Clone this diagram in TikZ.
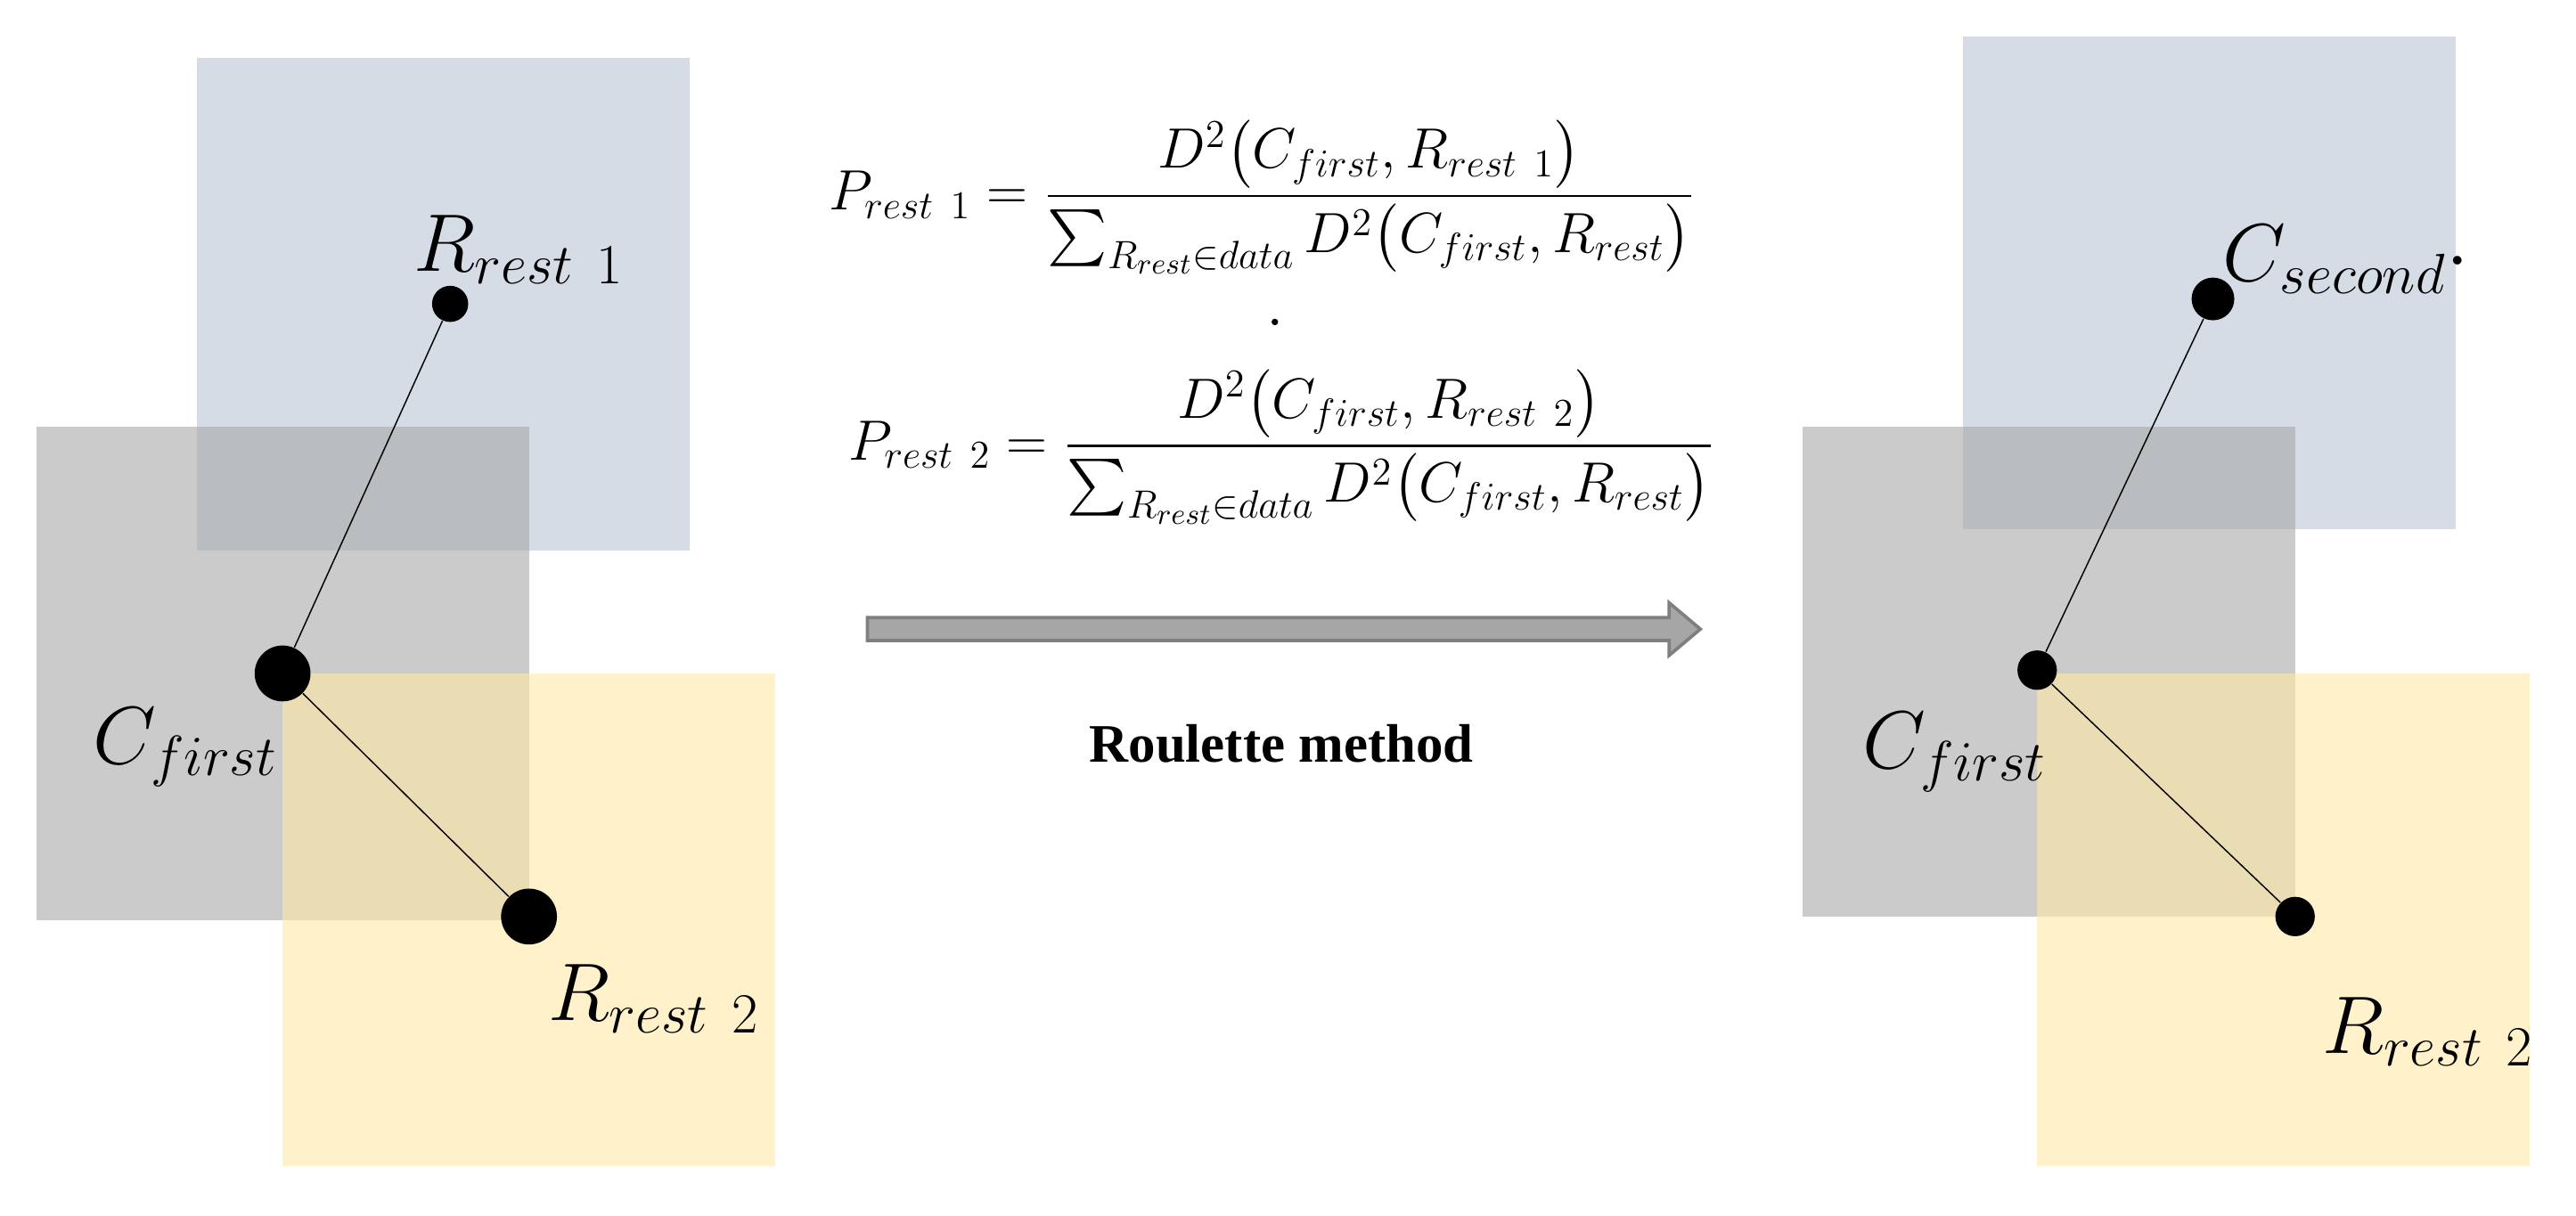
\documentclass[tikz,border=0pt]{standalone}
\usepackage{fontspec}
\usepackage{amsmath}
\newfontfamily\tnr{Liberation Serif}
\definecolor{sqblue}{HTML}{B9C5D5}
\definecolor{sqgray}{HTML}{A8A8A8}
\definecolor{sqyellow}{HTML}{FFE9A6}
\definecolor{arrfill}{HTML}{A6A6A6}
\definecolor{arrline}{HTML}{7F7F7F}
\begin{document}
\begin{tikzpicture}[x=0.5pt,y=-0.5pt,
  sq/.style={opacity=0.6},
  dot/.style={circle,fill=black,inner sep=0pt},
  lbl/.style={font=\fontsize{24}{28}\selectfont},
  frm/.style={font=\fontsize{17.5}{21}\selectfont,inner sep=0pt}]
\useasboundingbox (0,0) rectangle (1568,740);
% left panel
\fill[sqblue,sq] (120,35) rectangle (420,335);
\fill[sqgray,sq] (22,260) rectangle (322,560);
\fill[sqyellow,sq] (172,410) rectangle (472,710);
\node[dot,minimum size=11pt] (r1) at (274,185) {};
\node[dot,minimum size=17pt] (cf) at (172,410) {};
\node[dot,minimum size=17pt] (r2) at (322,558) {};
\draw (r1) -- (cf) -- (r2);
\node[lbl] (lr1) at (316,152) {$R_{rest\ 1}$};
\node[lbl] (lcf) at (113,455) {$C_{first}$};
\node[lbl] (lr2) at (398,608) {$R_{rest\ 2}$};
% formulas
\node[frm] (f1) at (768,120) {$P_{rest\ 1}=\dfrac{D^2\big(C_{first},R_{rest\ 1}\big)}{\sum_{R_{rest}\in data}D^2\big(C_{first},R_{rest}\big)}$};
\node[dot,minimum size=2pt] (pd) at (776,196) {};
\node[frm] (f2) at (780,272) {$P_{rest\ 2}=\dfrac{D^2\big(C_{first},R_{rest\ 2}\big)}{\sum_{R_{rest}\in data}D^2\big(C_{first},R_{rest}\big)}$};
\draw[arrline,line width=1pt,fill=arrfill] (528,376) -- (1016,376) -- (1016,367) -- (1035,383) -- (1016,399) -- (1016,390) -- (528,390) -- cycle;
\node[font=\tnr\bfseries\fontsize{16.5}{20}\selectfont] (rm) at (780,453) {Roulette method};
% right panel
\fill[sqblue,sq] (1195,22) rectangle (1495,322);
\fill[sqgray,sq] (1097,260) rectangle (1397,558);
\fill[sqyellow,sq] (1240,410) rectangle (1540,710);
\node[dot,minimum size=13pt] (cs) at (1347,182) {};
\node[dot,minimum size=12pt] (cf2) at (1240,408) {};
\node[dot,minimum size=12pt] (r22) at (1397,558) {};
\draw (cs) -- (cf2) -- (r22);
\node[lbl] (lcs) at (1428,158) {$C_{second}\cdot$};
\node[lbl] (lcf2) at (1190,458) {$C_{first}$};
\node[lbl] (lr22) at (1478,628) {$R_{rest\ 2}$};
\end{tikzpicture}
\end{document}
